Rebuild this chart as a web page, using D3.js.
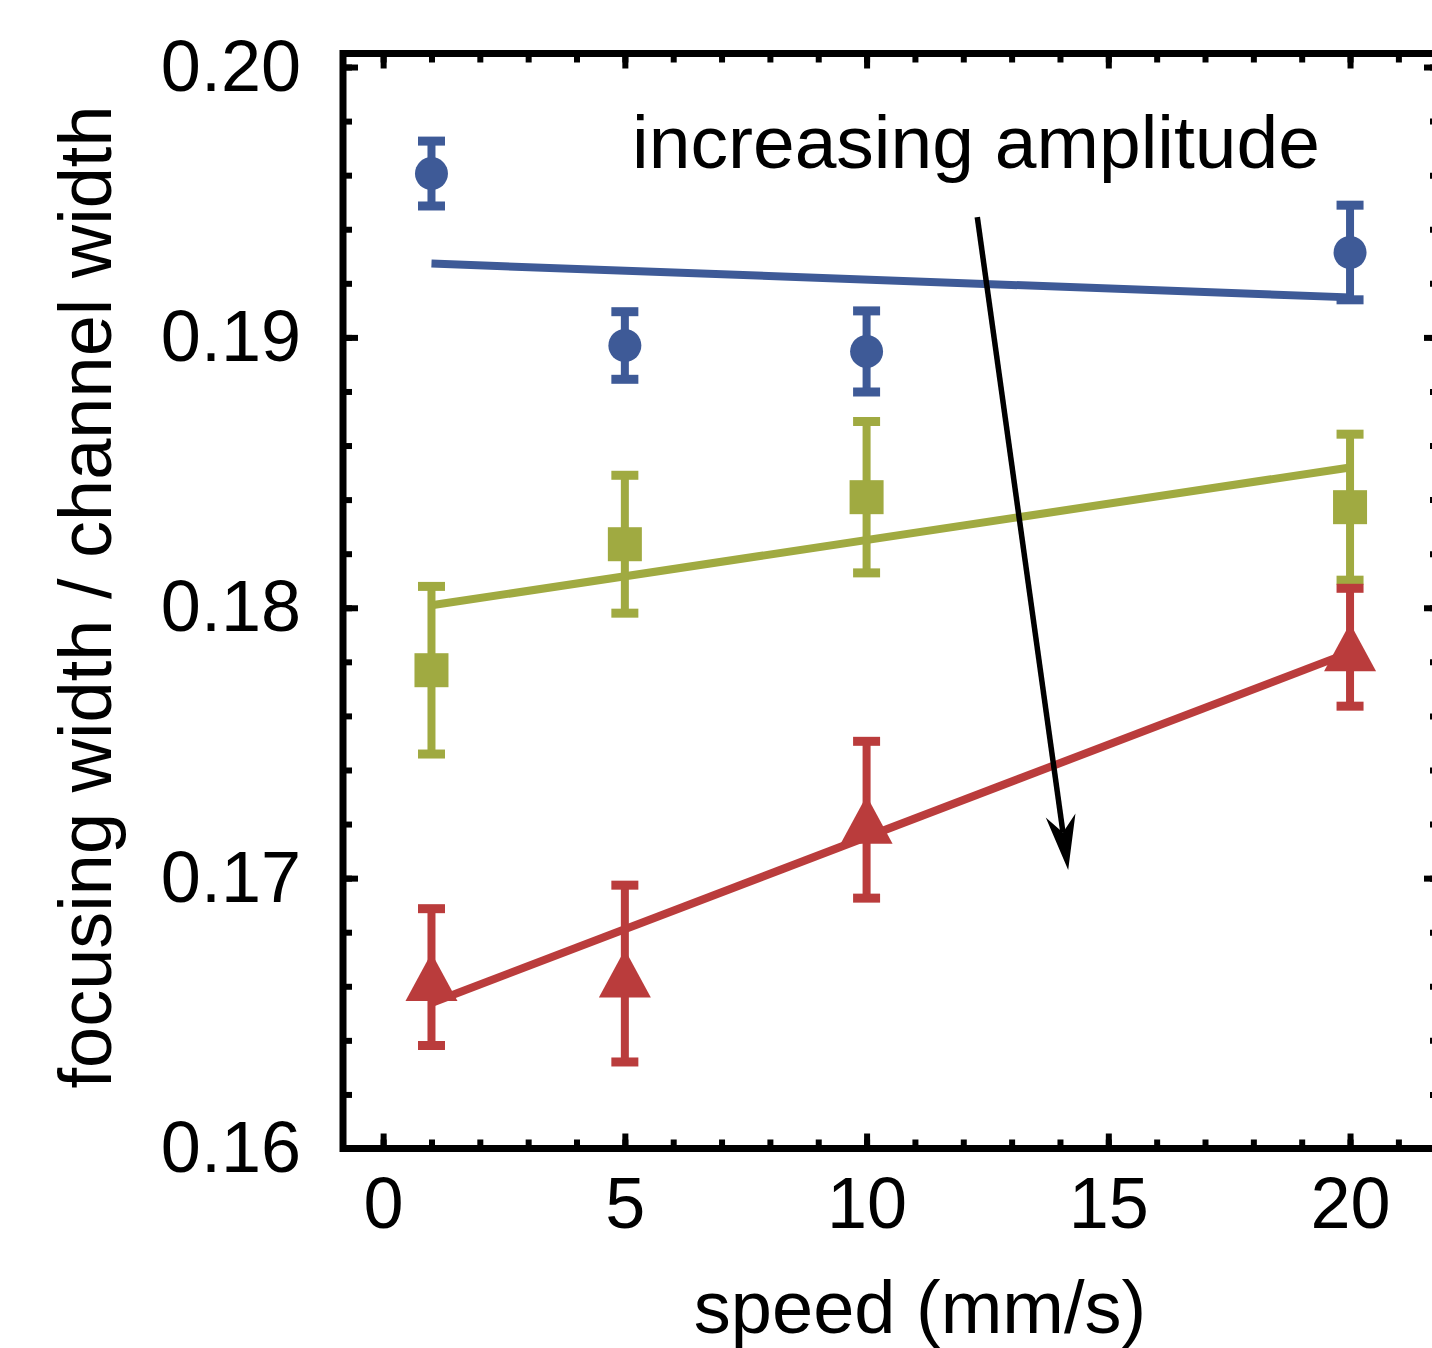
<!DOCTYPE html>
<html>
<head>
<meta charset="utf-8">
<script src="https://cdn.jsdelivr.net/npm/d3@7"></script>
<style>
  html, body { margin: 0; padding: 0; background: #fff; overflow: hidden; }
  svg { display: block; }
  text { font-family: "Liberation Sans", Arial, sans-serif; fill: #000; }
</style>
</head>
<body>
<svg width="1432" height="1348"></svg>
<script>
//Chart data
const speeds = [1, 5, 10, 20];

const blueValues = [0.19606, 0.18970, 0.18948, 0.19314];
const blueErrors = [0.00120, 0.00125, 0.00150, 0.00175];
const greenValues = [0.17769, 0.18235, 0.18409, 0.18372];
const greenErrors = [0.00310, 0.00255, 0.00280, 0.00270];
const redValues = [0.16634, 0.16647, 0.17216, 0.17854];
const redErrors = [0.00253, 0.00327, 0.00290, 0.00218];

//Fitted lines, value at first and last speed
const fitSpeeds = [1, 20];
const blueFit = [0.19273, 0.19148];
const greenFit = [0.18009, 0.18519];
const redFit = [0.16538, 0.17835];

const xTicks = [0, 5, 10, 15, 20];
const yTicks = [0.16, 0.17, 0.18, 0.19, 0.20];

const annotation = "increasing amplitude";
const arrowFrom = [12.29, 0.19445];
const arrowTo = [14.17, 0.17030];

//Setup
const svg = d3.select("svg");
const plotLeft = 343, plotRight = 1439, plotTop = 53.5, plotBottom = 1148.5;

const x = d3.scaleLinear().domain([-0.83, 21.84]).range([plotLeft, plotRight]);
const y = d3.scaleLinear().domain([0.16, 0.2005]).range([plotBottom, plotTop]);

const series = [
    {values: blueValues, errors: blueErrors, fit: blueFit, color: "#3e5a97", shape: "circle"},
    {values: greenValues, errors: greenErrors, fit: greenFit, color: "#a0aa41", shape: "square"},
    {values: redValues, errors: redErrors, fit: redFit, color: "#ba3c3c", shape: "triangle"}
];

//Ticks (all inward)
const minorX = d3.range(0, 22, 1);
const minorY = d3.range(0, 21).map(i => 0.16 + i * 0.002);

function styleAxis(g) {
    g.select(".domain").remove();
    g.selectAll(".tick line").attr("stroke", "#000").attr("stroke-width", 6);
    g.selectAll(".tick text").attr("font-size", "72px").attr("fill", "#000")
        .attr("font-family", "Liberation Sans, Arial, sans-serif");
}

//bottom
svg.append("g").attr("transform", `translate(0,${plotBottom})`)
    .call(d3.axisBottom(x).tickValues(minorX).tickSize(-9).tickFormat(""))
    .call(styleAxis);
svg.append("g").attr("transform", `translate(0,${plotBottom})`)
    .call(d3.axisBottom(x).tickValues(xTicks).tickSize(-15).tickPadding(28).tickFormat(d3.format("d")))
    .call(styleAxis);
//top
svg.append("g").attr("transform", `translate(0,${plotTop})`)
    .call(d3.axisTop(x).tickValues(minorX).tickSize(-9).tickFormat(""))
    .call(styleAxis);
svg.append("g").attr("transform", `translate(0,${plotTop})`)
    .call(d3.axisTop(x).tickValues(xTicks).tickSize(-15).tickFormat(""))
    .call(styleAxis);
//left
svg.append("g").attr("transform", `translate(${plotLeft},0)`)
    .call(d3.axisLeft(y).tickValues(minorY).tickSize(-9).tickFormat(""))
    .call(styleAxis);
svg.append("g").attr("transform", `translate(${plotLeft},0)`)
    .call(d3.axisLeft(y).tickValues(yTicks).tickSize(-15).tickPadding(42).tickFormat(d3.format(".2f")))
    .call(styleAxis);
//right
svg.append("g").attr("transform", `translate(${plotRight},0)`)
    .call(d3.axisRight(y).tickValues(minorY).tickSize(-9).tickFormat(""))
    .call(styleAxis);
svg.append("g").attr("transform", `translate(${plotRight},0)`)
    .call(d3.axisRight(y).tickValues(yTicks).tickSize(-15).tickFormat(""))
    .call(styleAxis);

//Frame
svg.append("rect")
    .attr("x", plotLeft).attr("y", plotTop)
    .attr("width", plotRight - plotLeft).attr("height", plotBottom - plotTop)
    .attr("fill", "none").attr("stroke", "#000").attr("stroke-width", 7);

//Fit lines
const line = d3.line().x(d => x(d[0])).y(d => y(d[1]));
svg.selectAll(".fit")
    .data(series)
    .enter()
    .append("path")
    .attr("class", "fit")
    .attr("d", s => line(fitSpeeds.map((v, i) => [v, s.fit[i]])))
    .attr("fill", "none")
    .attr("stroke", s => s.color)
    .attr("stroke-width", 8);

//Error bars and markers
series.forEach(s => {
    const pts = speeds.map((v, i) => ({x: v, y: s.values[i], e: s.errors[i]}));
    const g = svg.append("g").attr("fill", s.color).attr("stroke", s.color);

    g.selectAll(".bar")
        .data(pts).enter().append("line")
        .attr("x1", d => x(d.x)).attr("x2", d => x(d.x))
        .attr("y1", d => y(d.y + d.e)).attr("y2", d => y(d.y - d.e))
        .attr("stroke-width", 8);

    g.selectAll(".capTop")
        .data(pts).enter().append("line")
        .attr("x1", d => x(d.x) - 13.5).attr("x2", d => x(d.x) + 13.5)
        .attr("y1", d => y(d.y + d.e)).attr("y2", d => y(d.y + d.e))
        .attr("stroke-width", 9);

    g.selectAll(".capBottom")
        .data(pts).enter().append("line")
        .attr("x1", d => x(d.x) - 13.5).attr("x2", d => x(d.x) + 13.5)
        .attr("y1", d => y(d.y - d.e)).attr("y2", d => y(d.y - d.e))
        .attr("stroke-width", 9);

    const m = g.selectAll(".marker").data(pts).enter();
    if (s.shape === "circle") {
        m.append("circle")
            .attr("cx", d => x(d.x)).attr("cy", d => y(d.y))
            .attr("r", 16.5).attr("stroke", "none");
    } else if (s.shape === "square") {
        m.append("rect")
            .attr("x", d => x(d.x) - 17).attr("y", d => y(d.y) - 17)
            .attr("width", 34).attr("height", 34).attr("stroke", "none");
    } else {
        m.append("path")
            .attr("d", d => {
                const cx = x(d.x), cy = y(d.y);
                return `M${cx},${cy - 24}L${cx + 26},${cy + 24}L${cx - 26},${cy + 24}Z`;
            })
            .attr("stroke", "none");
    }
});

//Annotation text
svg.append("text")
    .attr("x", x(5.15))
    .attr("y", y(0.19627))
    .attr("font-size", "75px")
    .text(annotation);

//Arrow
const ax0 = x(arrowFrom[0]), ay0 = y(arrowFrom[1]);
const ax1 = x(arrowTo[0]), ay1 = y(arrowTo[1]);
const len = Math.hypot(ax1 - ax0, ay1 - ay0);
const ux = (ax1 - ax0) / len, uy = (ay1 - ay0) / len;
const nx = -uy, ny = ux;
const headLen = 55, notch = 38, halfW = 15;

svg.append("line")
    .attr("x1", ax0).attr("y1", ay0)
    .attr("x2", ax1 - ux * notch).attr("y2", ay1 - uy * notch)
    .attr("stroke", "#000").attr("stroke-width", 5.5);

svg.append("path")
    .attr("d", `M${ax1},${ay1}` +
        `L${ax1 - ux * headLen + nx * halfW},${ay1 - uy * headLen + ny * halfW}` +
        `L${ax1 - ux * notch},${ay1 - uy * notch}` +
        `L${ax1 - ux * headLen - nx * halfW},${ay1 - uy * headLen - ny * halfW}Z`)
    .attr("fill", "#000");

//Axis labels
svg.append("text")
    .attr("x", 920)
    .attr("y", 1333)
    .attr("text-anchor", "middle")
    .attr("font-size", "74px")
    .text("speed (mm/s)");

svg.append("text")
    .attr("transform", "translate(111,597) rotate(-90)")
    .attr("text-anchor", "middle")
    .attr("font-size", "74px")
    .text("focusing width / channel width");
</script>
</body>
</html>
